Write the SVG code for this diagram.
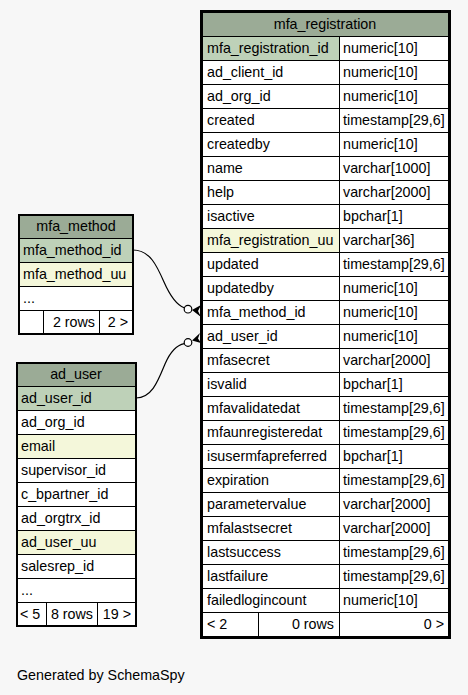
<svg xmlns="http://www.w3.org/2000/svg" width="468" height="695" viewBox="0 0 468 695">
<style>
text{font-family:"Liberation Sans",Arial,sans-serif;font-size:14.3px;fill:#000}
.hd{fill:#9bab96}
.pk{fill:#bed1b8}
.ix{fill:#f4f7da}
.wh{fill:#fff}
.ln{stroke:#000;stroke-width:1;fill:none}
.c{text-anchor:middle}
.r{text-anchor:end}
.edge{stroke:#000;stroke-width:1.2;fill:none}
.dot{stroke:#000;stroke-width:1.2;fill:#fff}
</style>
<rect width="468" height="695" fill="#f7f7f7"/>

<g id="mfa_registration">
<rect x="201.5" y="11.5" width="248" height="626" fill="#fff" stroke="#000" stroke-width="3"/>
<rect class="hd" x="203" y="13" width="245" height="23"/>
<rect class="pk" x="203" y="36" width="136" height="24"/>
<rect class="ix" x="203" y="228" width="136" height="24"/>
<path class="ln" d="M203,36.5H448M203,60.5H448M203,84.5H448M203,108.5H448M203,132.5H448M203,156.5H448M203,180.5H448M203,204.5H448M203,228.5H448M203,252.5H448M203,276.5H448M203,300.5H448M203,324.5H448M203,348.5H448M203,372.5H448M203,396.5H448M203,420.5H448M203,444.5H448M203,468.5H448M203,492.5H448M203,516.5H448M203,540.5H448M203,564.5H448M203,588.5H448M203,612.5H448M339.5,36V636M258.5,612V636"/>
<text class="c" x="325" y="29">mfa_registration</text>
<text x="207" y="53">mfa_registration_id</text><text x="343" y="53">numeric[10]</text>
<text x="207" y="77">ad_client_id</text><text x="343" y="77">numeric[10]</text>
<text x="207" y="101">ad_org_id</text><text x="343" y="101">numeric[10]</text>
<text x="207" y="125">created</text><text x="343" y="125">timestamp[29,6]</text>
<text x="207" y="149">createdby</text><text x="343" y="149">numeric[10]</text>
<text x="207" y="173">name</text><text x="343" y="173">varchar[1000]</text>
<text x="207" y="197">help</text><text x="343" y="197">varchar[2000]</text>
<text x="207" y="221">isactive</text><text x="343" y="221">bpchar[1]</text>
<text x="207" y="245">mfa_registration_uu</text><text x="343" y="245">varchar[36]</text>
<text x="207" y="269">updated</text><text x="343" y="269">timestamp[29,6]</text>
<text x="207" y="293">updatedby</text><text x="343" y="293">numeric[10]</text>
<text x="207" y="317">mfa_method_id</text><text x="343" y="317">numeric[10]</text>
<text x="207" y="341">ad_user_id</text><text x="343" y="341">numeric[10]</text>
<text x="207" y="365">mfasecret</text><text x="343" y="365">varchar[2000]</text>
<text x="207" y="389">isvalid</text><text x="343" y="389">bpchar[1]</text>
<text x="207" y="413">mfavalidatedat</text><text x="343" y="413">timestamp[29,6]</text>
<text x="207" y="437">mfaunregisteredat</text><text x="343" y="437">timestamp[29,6]</text>
<text x="207" y="461">isusermfapreferred</text><text x="343" y="461">bpchar[1]</text>
<text x="207" y="485">expiration</text><text x="343" y="485">timestamp[29,6]</text>
<text x="207" y="509">parametervalue</text><text x="343" y="509">varchar[2000]</text>
<text x="207" y="533">mfalastsecret</text><text x="343" y="533">varchar[2000]</text>
<text x="207" y="557">lastsuccess</text><text x="343" y="557">timestamp[29,6]</text>
<text x="207" y="581">lastfailure</text><text x="343" y="581">timestamp[29,6]</text>
<text x="207" y="605">failedlogincount</text><text x="343" y="605">numeric[10]</text>
<text x="207" y="629">&lt; 2</text><text class="r" x="334" y="629">0 rows</text><text class="r" x="444" y="629">0 &gt;</text>
</g>

<g id="mfa_method">
<rect x="19" y="215" width="114" height="119" fill="#fff" stroke="#000" stroke-width="2"/>
<rect class="hd" x="20" y="216" width="112" height="22"/>
<rect class="pk" x="20" y="238" width="112" height="24"/>
<rect class="ix" x="20" y="262" width="112" height="24"/>
<path class="ln" d="M20,238.5H132M20,262.5H132M20,286.5H132M20,310.5H132M43.5,310V334M99.5,310V334"/>
<text class="c" x="76" y="231">mfa_method</text>
<text x="23" y="255">mfa_method_id</text>
<text x="23" y="279">mfa_method_uu</text>
<text x="23" y="303">...</text>
<text class="r" x="95" y="327">2 rows</text>
<text class="r" x="128" y="327">2 &gt;</text>
</g>

<g id="ad_user">
<rect x="17" y="363" width="119" height="263" fill="#fff" stroke="#000" stroke-width="2"/>
<rect class="hd" x="18" y="364" width="117" height="22"/>
<rect class="pk" x="18" y="386" width="117" height="24"/>
<rect class="ix" x="18" y="434" width="117" height="24"/>
<rect class="ix" x="18" y="530" width="117" height="24"/>
<path class="ln" d="M18,386.5H135M18,410.5H135M18,434.5H135M18,458.5H135M18,482.5H135M18,506.5H135M18,530.5H135M18,554.5H135M18,578.5H135M18,602.5H135M46.5,602V626M97.5,602V626"/>
<text class="c" x="76" y="379">ad_user</text>
<text x="21" y="403">ad_user_id</text>
<text x="21" y="427">ad_org_id</text>
<text x="21" y="451">email</text>
<text x="21" y="475">supervisor_id</text>
<text x="21" y="499">c_bpartner_id</text>
<text x="21" y="523">ad_orgtrx_id</text>
<text x="21" y="547">ad_user_uu</text>
<text x="21" y="571">salesrep_id</text>
<text x="21" y="595">...</text>
<text x="20" y="619">&lt; 5</text>
<text class="r" x="93" y="619">8 rows</text>
<text class="r" x="131" y="619">19 &gt;</text>
</g>

<g id="connectors">
<path class="edge" d="M133,250 C150,250 157,266 164,282 C171,298 177,305 184.2,307.8"/>
<polygon points="192,310 201,305 198,311 201,317" fill="#000"/>
<circle class="dot" cx="188" cy="309.2" r="3.8"/>
<path class="edge" d="M136,398 C152,398 158,381 165,364 C171,350 177,345 184.3,343.6"/>
<polygon points="192,340.5 200,333 198,338.5 201,343" fill="#000"/>
<circle class="dot" cx="188" cy="342.5" r="3.8"/>
</g>

<text x="17" y="680">Generated by SchemaSpy</text>
</svg>
